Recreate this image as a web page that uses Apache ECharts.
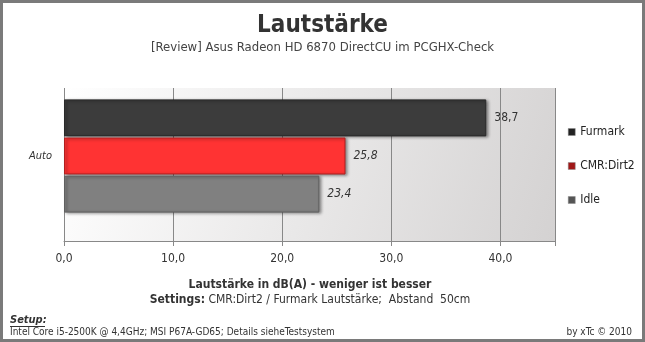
<!DOCTYPE html>
<html>
<head>
<meta charset="utf-8">
<script src="https://cdn.jsdelivr.net/npm/echarts@6/dist/echarts.min.js"></script>
<style>
html,body{margin:0;padding:0;background:#fff;}
#chart{width:645px;height:342px;}
</style>
</head>
<body>
<div id="chart"></div>
<script>
const categories = ['Auto'];
const seriesNames = ['Furmark', 'CMR:Dirt2', 'Idle'];
const furmark = [38.7];
const cmrDirt2 = [25.8];
const idle = [23.4];
const xTicks = [0, 10, 20, 30, 40];

const FONT = '"DejaVu Sans Condensed","Liberation Sans",sans-serif';
const chart = echarts.init(document.getElementById('chart'), null, {renderer: 'canvas'});

function fmt(v) { return Number(v).toFixed(1).replace('.', ','); }

const barShadow = {shadowColor: 'rgba(0,0,0,0.45)', shadowBlur: 3, shadowOffsetX: 2, shadowOffsetY: 1};

function makeSeries(name, data, color, border, italic) {
  return {
    name: name, type: 'bar', xAxisIndex: 1, yAxisIndex: 1,
    data: data, barWidth: 37, barGap: '3%',
    itemStyle: Object.assign({color: color, borderColor: border, borderWidth: 1}, barShadow),
    label: {
      show: true, position: 'right', distance: 8,
      formatter: p => fmt(p.value),
      fontFamily: FONT, fontSize: 12, color: '#333',
      fontStyle: italic ? 'italic' : 'normal'
    }
  };
}

const option = {
  animation: false,
  backgroundColor: '#fff',
  title: [
    {text: 'Lautstärke', left: 'center', top: 14, padding: 0,
     textStyle: {fontFamily: FONT, fontSize: 24, fontWeight: 'bold', color: '#333'}},
    {text: '[Review] Asus Radeon HD 6870 DirectCU im PCGHX-Check', left: 'center', top: 41, padding: 0,
     textStyle: {fontFamily: FONT, fontSize: 13, fontWeight: 'normal', color: '#444'}},
    {text: 'Lautstärke in dB(A) - weniger ist besser', left: 310, textAlign: 'center', top: 279, padding: 0,
     textStyle: {fontFamily: FONT, fontSize: 12, fontWeight: 'bold', color: '#333'}},
    {text: '{b|Settings:} CMR:Dirt2 / Furmark Lautstärke;  Abstand  50cm', left: 310, textAlign: 'center', top: 294, padding: 0,
     textStyle: {fontFamily: FONT, fontSize: 12, fontWeight: 'normal', color: '#333',
       rich: {b: {fontFamily: FONT, fontSize: 12, fontWeight: 'bold', color: '#333'}}}},
    {text: 'Setup:', left: 10, top: 315, padding: 0,
     textStyle: {fontFamily: FONT, fontSize: 11, fontWeight: 'bold', fontStyle: 'italic', color: '#333'}},
    {text: 'Intel Core i5-2500K @ 4,4GHz; MSI P67A-GD65; Details sieheTestsystem', left: 10, top: 327, padding: 0,
     textStyle: {fontFamily: FONT, fontSize: 10, fontWeight: 'normal', color: '#333'}},
    {text: 'by xTc © 2010', right: 13, top: 327, padding: 0,
     textStyle: {fontFamily: FONT, fontSize: 10, fontWeight: 'normal', color: '#333'}}
  ],
  legend: {
    orient: 'vertical', left: 563, top: 121, itemWidth: 7, itemHeight: 7, itemGap: 22,
    icon: 'rect',
    textStyle: {fontFamily: FONT, fontSize: 12, color: '#222'},
    data: [
      {name: 'Furmark', itemStyle: {color: '#222', borderColor: '#888', borderWidth: 0.5, shadowBlur: 0, shadowOffsetX: 0, shadowOffsetY: 0}},
      {name: 'CMR:Dirt2', itemStyle: {color: '#a01818', borderColor: '#888', borderWidth: 0.5, shadowBlur: 0, shadowOffsetX: 0, shadowOffsetY: 0}},
      {name: 'Idle', itemStyle: {color: '#555', borderColor: '#888', borderWidth: 0.5, shadowBlur: 0, shadowOffsetX: 0, shadowOffsetY: 0}}
    ]
  },
  grid: [
    {left: 64, right: 90, top: 88, bottom: 101, show: true, borderWidth: 0,
     backgroundColor: new echarts.graphic.LinearGradient(0, 0, 1, 1, [
       {offset: 0, color: '#ffffff'}, {offset: 1, color: '#d4d2d2'}])},
    {left: 64, right: 90, top: 99, height: 114}
  ],
  xAxis: [
    {type: 'value', gridIndex: 0, min: 0, max: 45, interval: 10,
     axisLine: {show: true, lineStyle: {color: '#888'}},
     axisTick: {show: true, length: 5, lineStyle: {color: '#888'}},
     splitLine: {show: true, showMinLine: true, lineStyle: {color: '#888', width: 1}},
     axisLabel: {formatter: v => xTicks.includes(v) ? fmt(v) : '', margin: 12,
       fontFamily: FONT, fontSize: 12, color: '#333'}},
    {type: 'value', gridIndex: 1, min: 0, max: 45, show: false}
  ],
  yAxis: [
    {type: 'category', gridIndex: 0, data: [''], axisLine: {show: false}, axisTick: {show: false}, axisLabel: {show: false}},
    {type: 'category', gridIndex: 1, data: categories, inverse: true,
     axisLine: {show: false}, axisTick: {show: false},
     axisLabel: {fontFamily: FONT, fontSize: 11, fontStyle: 'italic', color: '#333', margin: 12}}
  ],
  graphic: [
    {type: 'rect', shape: {x: 1.5, y: 1.5, width: 642, height: 339}, style: {fill: 'none', stroke: '#7a7a7a', lineWidth: 3}, z: 100},
    {type: 'line', shape: {x1: 10, y1: 326.5, x2: 45, y2: 326.5}, style: {stroke: '#333', lineWidth: 1}}
  ],
  series: [
    makeSeries(seriesNames[0], furmark, '#3c3c3c', '#2a2a2a', false),
    makeSeries(seriesNames[1], cmrDirt2, '#ff3333', '#b02020', true),
    makeSeries(seriesNames[2], idle, '#808080', '#606060', true)
  ]
};
chart.setOption(option);
</script>
</body>
</html>
